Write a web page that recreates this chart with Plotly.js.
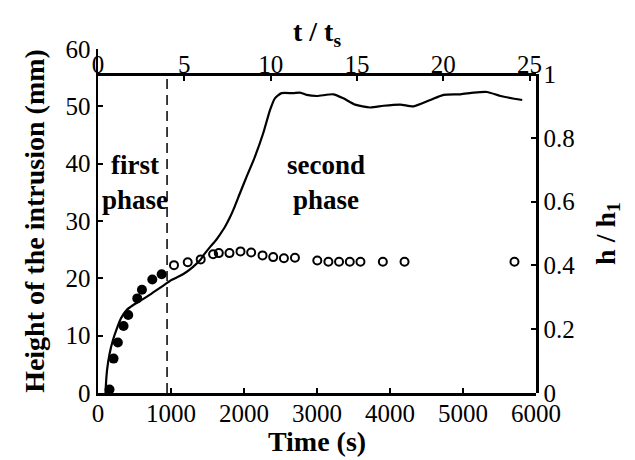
<!DOCTYPE html>
<html>
<head>
<meta charset="utf-8">
<script src="https://cdn.plot.ly/plotly-3.0.1.min.js"></script>
<style>html,body{margin:0;padding:0;background:#fff;}#chart{width:635px;height:460px;}</style>
</head>
<body>
<div id="chart"></div>
<script>
// Model curve: height of the intrusion (mm) vs time (s)
const curveTime = [103,112,126,158,204,263,318,387,478,593,730,868,1005,1119,1211,1302,1394,1462,1531,1600,1668,1740,1806,1875,1943,2035,2149,2263,2355,2423,2515,2675,2767,2858,2996,3224,3361,3522,3728,3911,4140,4323,4552,4734,4964,5147,5330,5513,5811];
const curveHeight = [0,2.2,4.2,6.8,9.2,11.4,13.1,14.4,15.3,16.2,17.3,18.5,19.7,20.4,21.1,22.0,23.1,24.3,25.4,26.4,27.6,29.0,30.6,32.6,34.8,37.7,41.2,45.3,49.3,51.4,52.3,52.3,52.4,52.0,51.8,52.1,51.4,50.3,49.8,50.1,50.3,50.0,51.1,52.0,52.1,52.4,52.5,51.8,51.1];

// Measurements, first phase (filled circles)
const firstTime = [158,213,272,350,414,538,602,744,872];
const firstHeight = [0.6,6.0,8.8,11.7,13.6,16.5,18.0,19.8,20.7];

// Measurements, second phase (open circles)
const secondTime = [1041,1229,1407,1577,1655,1801,1952,2098,2254,2400,2547,2698,3004,3156,3302,3449,3595,3902,4199,5705];
const secondHeight = [22.3,22.8,23.3,24.2,24.4,24.4,24.7,24.5,24.0,23.7,23.5,23.6,23.1,22.9,22.9,22.9,22.9,22.9,22.9,22.9];

// Scales
const ts = 236.5;            // s, time scale for the top axis t/ts
const phaseBoundary = 4;     // t/ts at the dashed line
const timeRange = [0, 6000];
const heightRange = [0, 60];
const ratioRange = [0, 1];

const serif = '"Liberation Serif", "Times New Roman", serif';
const titleFont = {family: serif, size: 28, color: '#000', weight: 'bold'};
const topFrac = 0.9273;

function tickFont() { return {family: serif, size: 25, color: '#000', weight: 'normal'}; }

const traces = [
  {x: curveTime, y: curveHeight, type: 'scatter', mode: 'lines',
   line: {color: '#000', width: 2.2, shape: 'spline', smoothing: 0.6}, xaxis: 'x', yaxis: 'y', showlegend: false, hoverinfo: 'skip'},
  {x: firstTime, y: firstHeight, type: 'scatter', mode: 'markers',
   marker: {symbol: 'circle', size: 10, color: '#000'}, xaxis: 'x', yaxis: 'y', showlegend: false},
  {x: secondTime, y: secondHeight, type: 'scatter', mode: 'markers',
   marker: {symbol: 'circle-open', size: 8, color: '#000', line: {width: 2, color: '#000'}}, xaxis: 'x', yaxis: 'y', showlegend: false},
  {x: [], y: [], type: 'scatter', mode: 'markers', xaxis: 'x2', yaxis: 'y', showlegend: false, hoverinfo: 'skip'},
  {x: [], y: [], type: 'scatter', mode: 'markers', xaxis: 'x', yaxis: 'y2', showlegend: false, hoverinfo: 'skip'}
];

const axisCommon = {
  showgrid: false, zeroline: false, showline: true, linecolor: '#000', linewidth: 2.5,
  ticks: 'inside', ticklen: 5, tickwidth: 2, tickcolor: '#000'
};

const layout = {
  width: 635, height: 460,
  margin: {l: 98, r: 99, t: 49, b: 67},
  paper_bgcolor: '#fff', plot_bgcolor: 'rgba(0,0,0,0)',
  font: {family: serif, color: '#000'},
  xaxis: Object.assign({}, axisCommon, {
    range: timeRange, dtick: 1000, tick0: 0, tickformat: 'd', anchor: 'y',
    tickfont: tickFont(), ticklabelstandoff: -4,
    title: {text: 'Time (s)', font: titleFont, standoff: 0}
  }),
  xaxis2: Object.assign({}, axisCommon, {
    range: [timeRange[0] / ts, timeRange[1] / ts], dtick: 5, tick0: 0,
    overlaying: 'x', side: 'top', anchor: 'free', position: topFrac,
    tickfont: tickFont(), ticklabelstandoff: -10,
    title: {text: 't / t<sub>s</sub>', font: titleFont, standoff: 0}
  }),
  yaxis: Object.assign({}, axisCommon, {
    range: heightRange, dtick: 10, tick0: 0, anchor: 'x',
    tickfont: tickFont(),
    title: {text: 'Height of the intrusion (mm)', font: titleFont, standoff: 13}
  }),
  yaxis2: Object.assign({}, axisCommon, {
    range: ratioRange, dtick: 0.2, tick0: 0, domain: [0, topFrac], anchor: 'x', side: 'right',
    tickfont: tickFont(),
    title: {text: 'h / h<sub>1</sub>', font: titleFont, standoff: 21}
  }),
  shapes: [{
    type: 'line', xref: 'x', yref: 'y2',
    x0: phaseBoundary * ts, x1: phaseBoundary * ts, y0: 0, y1: 1,
    line: {color: '#000', width: 1.5, dash: '10px,6px'}
  }],
  annotations: [
    {text: 'first<br>phase', x: 501, y: 36.8, xref: 'x', yref: 'y', showarrow: false,
     font: {family: serif, size: 27, color: '#000', weight: 'bold'}},
    {text: 'second<br>phase', x: 3124, y: 36.8, xref: 'x', yref: 'y', showarrow: false,
     font: {family: serif, size: 27, color: '#000', weight: 'bold'}}
  ]
};

Plotly.newPlot('chart', traces, layout, {displayModeBar: false, staticPlot: true});
</script>
</body>
</html>
